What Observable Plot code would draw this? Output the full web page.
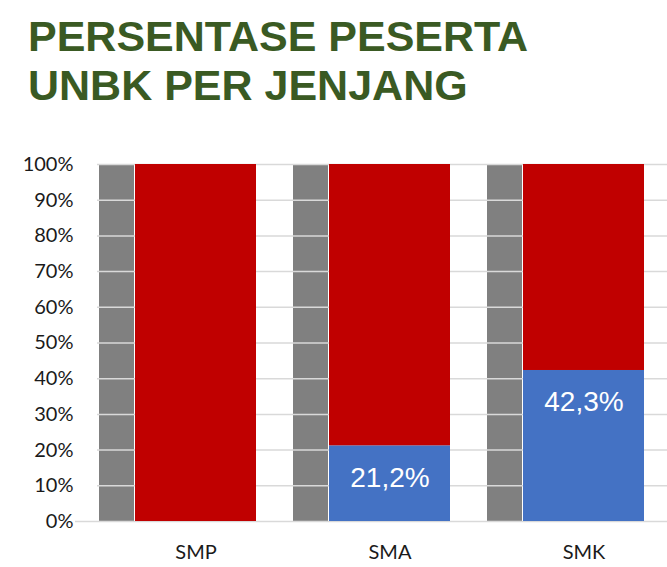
<!DOCTYPE html>
<html>
<head>
<meta charset="utf-8">
<script src="https://cdn.jsdelivr.net/npm/d3@7"></script>
<script src="https://cdn.jsdelivr.net/npm/@observablehq/plot@0.6"></script>
<style>
  html, body { margin: 0; padding: 0; background: #ffffff; }
  #title {
    height: 130px; box-sizing: border-box;
    padding: 12px 0 0 28px;
    font-family: "Liberation Sans", Arial, sans-serif;
    font-weight: bold; font-size: 43px; line-height: 49px;
    color: #3a5a23; letter-spacing: 0px;
  }
  #chart svg { display: block; }
</style>
</head>
<body>
<div id="title">PERSENTASE PESERTA<br>UNBK PER JENJANG</div>
<div id="chart"></div>
<script>
const categories = ["SMP", "SMA", "SMK"];
const unbkValues = [0, 21.2, 42.3];
const otherValues = [100, 78.8, 57.7];
const totalValues = [100, 100, 100];
const yTicks = [0, 10, 20, 30, 40, 50, 60, 70, 80, 90, 100];

const grey = categories.map((c, i) => ({cat: c, v: totalValues[i]}));
const stacked = [
  ...categories.map((c, i) => ({cat: c, series: "UNBK", v: unbkValues[i]})),
  ...categories.map((c, i) => ({cat: c, series: "Lainnya", v: otherValues[i]}))
];
const labels = categories.map((c, i) => ({cat: c, v: unbkValues[i]})).filter(d => d.v > 0);

const chart = Plot.plot({
  width: 667,
  height: 437,
  marginLeft: 97,
  marginRight: 0,
  marginTop: 34,
  marginBottom: 46,
  style: {background: "#ffffff", overflow: "visible"},
  x: {domain: categories, paddingInner: 0.374, paddingOuter: 0.149, align: 0.62, label: null},
  y: {domain: [0, 100], label: null},
  color: {domain: ["UNBK", "Lainnya"], range: ["#4472c4", "#c00000"]},
  marks: [
    Plot.barY(grey, {x: "cat", y: "v", fill: "#808080", insetRight: 86, dx: -36}),
    Plot.ruleY(yTicks.filter(t => t > 0), {stroke: "#d9d9d9", strokeWidth: 1.5}),
    Plot.ruleY([0], {stroke: "#d9d9d9", strokeWidth: 1.5, insetLeft: -22}),
    Plot.barY(stacked, {x: "cat", y: "v", fill: "series", order: ["UNBK", "Lainnya"]}),
    Plot.text(labels, {x: "cat", y: "v", dy: 32, text: d => d.v.toFixed(1).replace(".", ",") + "%",
      fill: "#ffffff", fontSize: 28, fontFamily: "Liberation Sans, Arial, sans-serif"}),
    Plot.axisY(yTicks, {tickSize: 0, tickPadding: 24, tickFormat: d => d + "%",
      fontSize: 20, fontFamily: "Lato, sans-serif", fill: "#1a1a1a", label: null}),
    Plot.axisX({tickSize: 0, tickPadding: 23, fontSize: 20, fontFamily: "Lato, sans-serif",
      fill: "#1a1a1a", label: null})
  ]
});
document.getElementById("chart").appendChild(chart);
</script>
</body>
</html>
